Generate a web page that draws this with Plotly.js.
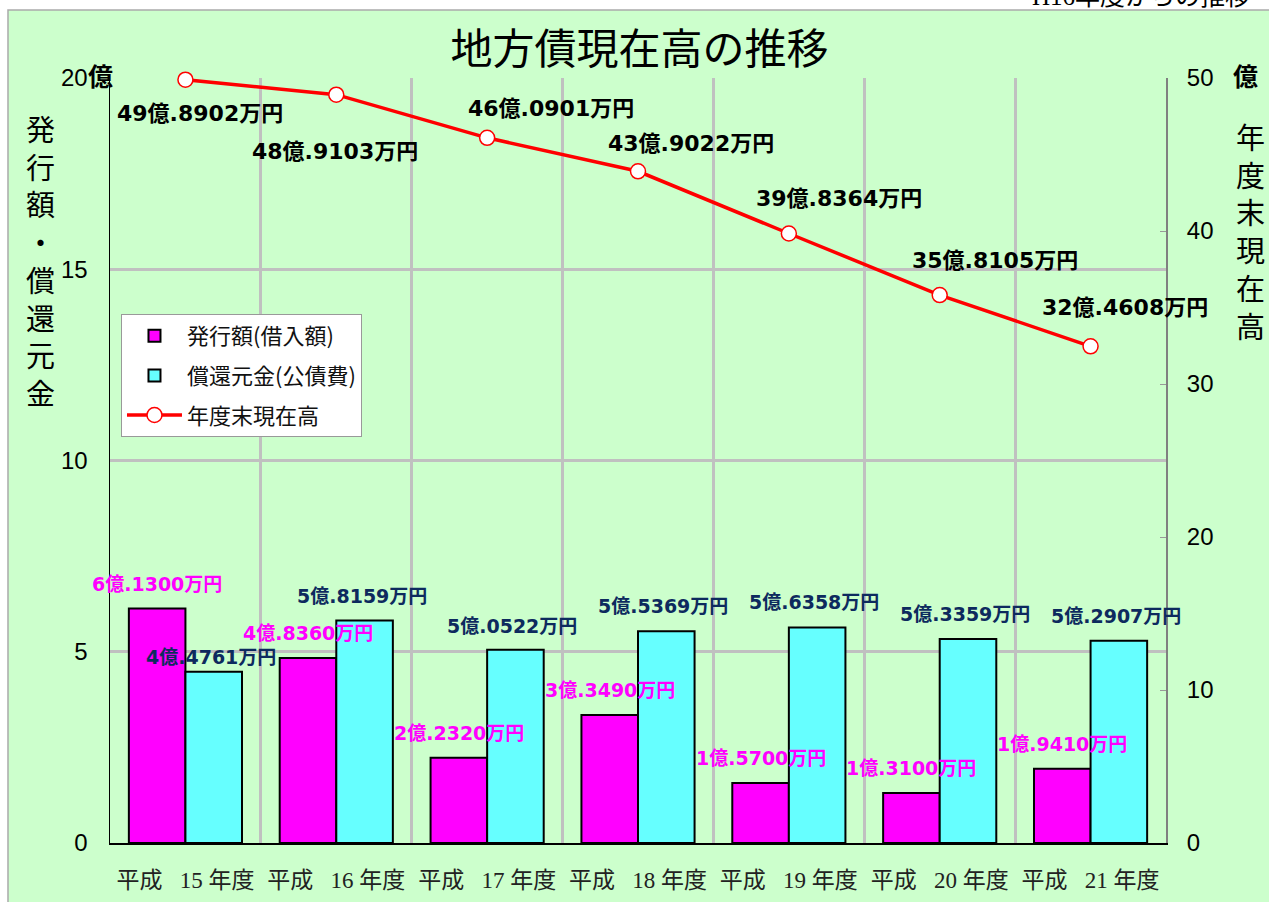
<!DOCTYPE html>
<html>
<head>
<meta charset="utf-8">
<script src="https://cdn.plot.ly/plotly-3.0.1.min.js"></script>
<style>html,body{margin:0;padding:0;background:#fff;}#chart{width:1269px;height:902px;}</style>
</head>
<body>
<div id="chart"></div>
<script>
// ---- data ----
var categories = ['平成\u2002 15 年度', '平成\u2002 16 年度', '平成\u2002 17 年度', '平成\u2002 18 年度', '平成\u2002 19 年度', '平成\u2002 20 年度', '平成\u2002 21 年度'];
var issueAmount = [6.1300, 4.8360, 2.2320, 3.3490, 1.5700, 1.3100, 1.9410];     // 発行額(借入額) 億円
var repayAmount = [4.4761, 5.8159, 5.0522, 5.5369, 5.6358, 5.3359, 5.2907];     // 償還元金(公債費) 億円
var balanceAmount = [49.8902, 48.9103, 46.0901, 43.9022, 39.8364, 35.8105, 32.4608]; // 年度末現在高 億円
var leftTicks = [0, 5, 10, 15, 20];
var rightTicks = [0, 10, 20, 30, 40, 50];
var seriesNames = ['発行額(借入額)', '償還元金(公債費)', '年度末現在高'];

// label offsets (px) for the balance labels
var balanceLabelDX = [15, -1, 64, 53, 50, 55, 34];
var balanceLabelDY = [-34, -57, 29, 28, 35, 35, 39];
var repayLabelDY = [15, 25, 24, 25, 25, 25, 25];

function fmt(v) {
  var oku = Math.floor(v);
  var man = Math.round((v - oku) * 10000);
  return oku + '億.' + String(man).padStart(4, '0') + '万円';
}

var bargap = 0.25;
var barHalf = (1 - bargap) / 4;

var labelFont = 'DejaVu Sans, Noto Sans CJK JP, sans-serif';
var cjk = 'Noto Sans CJK JP, sans-serif';

var traces = [
  {
    type: 'bar', name: seriesNames[0], x: categories, y: issueAmount,
    marker: {color: '#ff00ff', line: {color: '#000000', width: 2}},
    legendgroup: 'a', hoverinfo: 'none'
  },
  {
    type: 'bar', name: seriesNames[1], x: categories, y: repayAmount,
    marker: {color: '#66ffff', line: {color: '#000000', width: 2}},
    legendgroup: 'b', hoverinfo: 'none'
  },
  {
    type: 'scatter', mode: 'lines+markers', name: seriesNames[2], x: categories, y: balanceAmount,
    yaxis: 'y2', cliponaxis: false,
    line: {color: '#ff0000', width: 3.5},
    marker: {symbol: 'circle', size: 15, color: '#ffffff', line: {color: '#ff0000', width: 1.5}},
    legendgroup: 'c', hoverinfo: 'none'
  }
];

var annotations = [];
categories.forEach(function (c, i) {
  annotations.push({
    xref: 'x', yref: 'y', x: i - barHalf, y: issueAmount[i], text: '<b>' + fmt(issueAmount[i]) + '</b>',
    showarrow: false, yshift: 25, xanchor: 'center', yanchor: 'middle',
    font: {family: labelFont, size: 19, color: '#ff00ff'}
  });
  annotations.push({
    xref: 'x', yref: 'y', x: i + barHalf, y: repayAmount[i], text: '<b>' + fmt(repayAmount[i]) + '</b>',
    showarrow: false, yshift: repayLabelDY[i], xshift: -3, xanchor: 'center', yanchor: 'middle',
    font: {family: labelFont, size: 19, color: '#0d2a5e'}
  });
  annotations.push({
    xref: 'x', yref: 'y2', x: i, y: balanceAmount[i], text: '<b>' + fmt(balanceAmount[i]) + '</b>',
    showarrow: false, xshift: balanceLabelDX[i], yshift: balanceLabelDY[i], xanchor: 'center', yanchor: 'middle',
    font: {family: labelFont, size: 22, color: '#000000'}
  });
});

// unit marks and axis titles
annotations.push({xref: 'paper', yref: 'paper', x: 0, y: 1, xshift: -10, yshift: 3, xanchor: 'center', yanchor: 'middle',
  text: '<b>億</b>', showarrow: false, font: {family: cjk, size: 25, color: '#000'}});
annotations.push({xref: 'paper', yref: 'paper', x: 1, y: 1, xshift: 79, yshift: 3, xanchor: 'center', yanchor: 'middle',
  text: '<b>億</b>', showarrow: false, font: {family: cjk, size: 25, color: '#000'}});
annotations.push({xref: 'paper', yref: 'paper', x: 0, y: 0.762, xshift: -70, xanchor: 'center', yanchor: 'middle',
  text: '発<br>行<br>額<br>・<br>償<br>還<br>元<br>金', showarrow: false,
  font: {family: cjk, size: 29, color: '#000'}});
annotations.push({xref: 'paper', yref: 'paper', x: 1, y: 0.80, xshift: 84, xanchor: 'center', yanchor: 'middle',
  text: '年<br>度<br>末<br>現<br>在<br>高', showarrow: false,
  font: {family: cjk, size: 29, color: '#000'}});
annotations.push({xref: 'paper', yref: 'paper', x: 0.871, y: 1, yshift: 82, xanchor: 'left', yanchor: 'middle', text: 'H16年度からの推移', showarrow: false,
  font: {family: 'Liberation Serif, Noto Sans CJK JP', size: 25, color: '#000'}});

var layout = {
  width: 1269, height: 902,
  margin: {l: 110, r: 103, t: 78, b: 59, pad: 0},
  paper_bgcolor: '#ffffff',
  plot_bgcolor: '#ffffc4',
  font: {family: cjk, color: '#000'},
  title: {text: '地方債現在高の推移', x: 0.504, xanchor: 'center', y: 0.945, yanchor: 'middle',
    font: {family: cjk, size: 42, color: '#000'}},
  barmode: 'group', bargap: bargap, bargroupgap: 0,
  showlegend: true,
  legend: {x: 0.0104, y: 0.6915, xanchor: 'left', yanchor: 'top', bgcolor: '#ffffff', bordercolor: '#999999', borderwidth: 1,
    font: {family: cjk, size: 22, color: '#111'}, traceorder: 'grouped', tracegroupgap: 8, itemwidth: 55},
  xaxis: {
    type: 'category', tickson: 'boundaries', showgrid: true, gridcolor: '#c0c0c0', gridwidth: 3,
    showline: true, linecolor: '#000', linewidth: 2, ticks: '', zeroline: false,
    tickfont: {family: 'Liberation Serif, Noto Sans CJK JP', size: 23, color: '#222'}, ticklabelstandoff: 15,
    range: [-0.5, 6.5], fixedrange: true
  },
  yaxis: {
    range: [0, 20], tickvals: leftTicks, showgrid: true, gridcolor: '#c0c0c0', gridwidth: 3,
    showline: true, linecolor: '#000', linewidth: 1.5, ticks: '', zeroline: false,
    tickfont: {family: 'Liberation Sans', size: 24, color: '#000'}, ticklabelstandoff: 16, fixedrange: true
  },
  yaxis2: {
    overlaying: 'y', side: 'right', range: [0, 50], tickvals: rightTicks, showgrid: false,
    showline: true, linecolor: '#808080', linewidth: 2, ticks: 'inside', ticklen: 6, tickcolor: '#999',
    zeroline: false, tickfont: {family: 'Liberation Sans', size: 24, color: '#000'}, ticklabelstandoff: 14, fixedrange: true
  },
  shapes: [
    {type: 'rect', xref: 'paper', yref: 'paper', x0: -0.0966, x1: 1.11, y0: -0.09, y1: 1.0889,
      fillcolor: '#ccffcc', line: {color: '#aaaaaa', width: 1.5}, layer: 'below'}
  ],
  annotations: annotations
};

Plotly.newPlot('chart', traces, layout, {displayModeBar: false, staticPlot: true});
</script>
</body>
</html>
